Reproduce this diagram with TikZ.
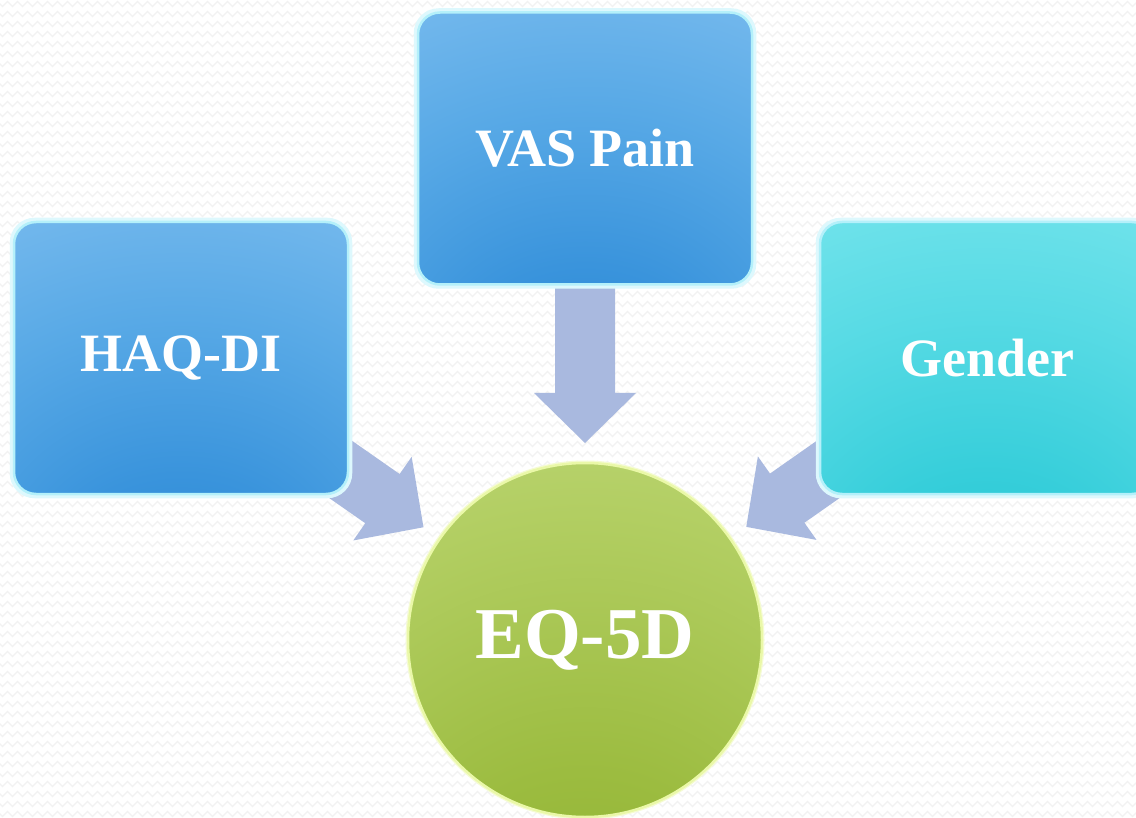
\documentclass[tikz,border=0pt]{standalone}
\usepackage{fontspec}
\setmainfont{Liberation Serif}
\usetikzlibrary{calc,decorations.pathmorphing}
\definecolor{arrowc}{HTML}{A9B9DF}
\definecolor{zig}{HTML}{F2F2F2}
\definecolor{b0}{HTML}{2282D2}
\definecolor{b1}{HTML}{3A94DC}
\definecolor{b2}{HTML}{58A9E6}
\definecolor{b3}{HTML}{78BBEE}
\definecolor{b4}{HTML}{98CCF4}
\definecolor{b5}{HTML}{B4DCF9}
\definecolor{c0}{HTML}{1CC2CE}
\definecolor{c1}{HTML}{36CEDA}
\definecolor{c2}{HTML}{56DAE4}
\definecolor{c3}{HTML}{74E4EC}
\definecolor{c4}{HTML}{92ECF3}
\definecolor{c5}{HTML}{AEF3F8}
\definecolor{g0}{HTML}{88AD28}
\definecolor{g1}{HTML}{9CBC40}
\definecolor{g2}{HTML}{B2CE62}
\definecolor{g3}{HTML}{C6DD88}
\definecolor{g4}{HTML}{D4E7A2}
\definecolor{g5}{HTML}{DDEDB4}
\definecolor{rimblue}{HTML}{B4F0FA}
\definecolor{rimgreen}{HTML}{EAF8A8}
\pgfdeclareradialshading{blueshade}{\pgfpoint{0bp}{-50bp}}{color(0bp)=(b0); color(20bp)=(b1); color(40bp)=(b2); color(60bp)=(b3); color(80bp)=(b4); color(115bp)=(b5)}
\pgfdeclareradialshading{cyanshade}{\pgfpoint{0bp}{-50bp}}{color(0bp)=(c0); color(20bp)=(c1); color(40bp)=(c2); color(60bp)=(c3); color(80bp)=(c4); color(115bp)=(c5)}
\pgfdeclareradialshading{greenshade}{\pgfpoint{0bp}{-55bp}}{color(0bp)=(g0); color(25bp)=(g1); color(50bp)=(g2); color(75bp)=(g3); color(95bp)=(g4); color(120bp)=(g5)}
\pgfdeclarelayer{back}
\pgfdeclarelayer{mid}
\pgfsetlayers{back,mid,main}
\newcommand\fatarrow[3]{% #1 start, #2 tip, #3 name
  \coordinate (#3-h) at ($(#2)!50pt!(#1)$);
  \fill[arrowc] ($(#1)!30pt!90:(#2)$) -- ($(#3-h)!30pt!90:(#2)$) -- ($(#3-h)!51pt!90:(#2)$) -- (#2)
    -- ($(#3-h)!51pt!-90:(#2)$) -- ($(#3-h)!30pt!-90:(#2)$) -- ($(#1)!30pt!-90:(#2)$) -- cycle;}
\tikzset{
  box/.style={rounded corners=22pt, minimum width=334pt, minimum height=272pt,
    draw=rimblue, line width=2.5pt, text=white, font=\fontsize{54}{60}\selectfont\bfseries, inner sep=0pt},
  glow/.style={rounded corners=22pt, draw=rimblue!45!white, line width=6pt},
  bluebox/.style={box, shading=blueshade},
  cyanbox/.style={box, shading=cyanshade},
  hub/.style={circle, minimum size=354pt, inner sep=0pt, shading=greenshade, draw=rimgreen,
    line width=2.5pt, text=white, font=\fontsize{73}{80}\selectfont\bfseries}
}
\begin{document}
\begin{tikzpicture}[x=1pt,y=-1pt]
\useasboundingbox (0,0) rectangle (1136,818);
\clip (0,0) rectangle (1136,818);
\node[bluebox] (vas) at (585,148.5) {VAS Pain};
\node[bluebox] (haq) at (181,358) {HAQ-DI};
\node[cyanbox] (gen) at (987,358) {Gender};
\node[hub] (eq) at (585,640) {EQ-5D};
\begin{pgfonlayer}{back}
  \fill[white] (0,0) rectangle (1136,818);
  \foreach \r in {4,14,...,818}
    \draw[zig, line width=1.3pt, decorate, decoration={zigzag, segment length=10pt, amplitude=2.5pt}] (-5,\r) -- (1141,\r);
\end{pgfonlayer}
\begin{pgfonlayer}{mid}
  \coordinate (vasT) at ($(eq.center)!197pt!(vas.center)$);
  \coordinate (haqT) at ($(eq.center)!197pt!(haq.center)$);
  \coordinate (genT) at ($(eq.center)!197pt!(gen.center)$);
  \fatarrow{vas.center}{vasT}{a1}
  \fatarrow{haq.center}{haqT}{a2}
  \fatarrow{gen.center}{genT}{a3}
  \draw[glow] (vas.north west) rectangle (vas.south east);
  \draw[glow] (haq.north west) rectangle (haq.south east);
  \draw[glow] (gen.north west) rectangle (gen.south east);
  \draw[rimgreen!50!white, line width=5pt] (eq.center) circle (177pt);
\end{pgfonlayer}
\end{tikzpicture}
\end{document}
